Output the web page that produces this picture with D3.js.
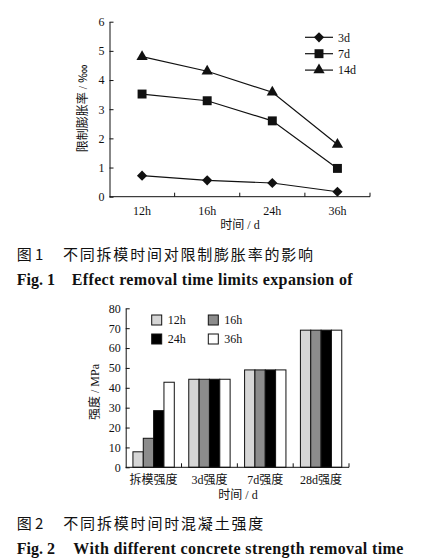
<!DOCTYPE html>
<html lang="zh">
<head>
  <meta charset="UTF-8">
  <title>拆模时间</title>
  <script src="https://d3js.org/d3.v7.min.js"></script>
  <style>
    * { margin: 0; padding: 0; box-sizing: border-box; }
    body { background: #fff; }
    svg text { font-family: "Liberation Serif", "Times New Roman", "Noto Sans CJK SC", serif; fill: #111; }
    .cjk { font-family: "Noto Sans CJK SC", sans-serif; }
  </style>
</head>
<body>
  <div id="chart"></div>
  <script>
    // fig 1: restricted expansion rate
    const times = ["12h", "16h", "24h", "36h"];
    const exp3d = [0.72, 0.56, 0.47, 0.17];
    const exp7d = [3.52, 3.29, 2.60, 0.97];
    const exp14d = [4.80, 4.30, 3.58, 1.79];
    const expAges = ["3d", "7d", "14d"];
    const expTicks = [0, 1, 2, 3, 4, 5, 6];

    // fig 2: strength
    const stages = ["拆模强度", "3d强度", "7d强度", "28d强度"];
    const str12h = [7.8, 44.3, 49.0, 69.0];
    const str16h = [14.6, 44.3, 49.0, 69.0];
    const str24h = [28.5, 44.3, 49.0, 69.0];
    const str36h = [42.8, 44.3, 49.0, 69.0];
    const strTicks = [0, 10, 20, 30, 40, 50, 60, 70, 80];

    const W = 424, H = 560;
    const svg = d3.select("#chart").append("svg")
      .attr("width", W).attr("height", H);
    svg.append("rect").attr("width", W).attr("height", H).attr("fill", "#fff");

    // ---------- Fig 1 ----------
    const g1 = svg.append("g");
    const x1 = d3.scaleBand().domain(times).range([109.5, 370]);
    const y1 = d3.scaleLinear().domain([0, 6]).range([196.7, 21.7]);

    g1.append("g")
      .attr("transform", "translate(109.5,0)")
      .call(d3.axisLeft(y1).tickValues(expTicks).tickFormat(d3.format("d"))
        .tickSizeInner(-4).tickSizeOuter(0).tickPadding(5))
      .call(a => a.attr("font-family", null))
      .call(a => a.selectAll("text").style("font-size", "12px"))
      .call(a => a.selectAll("line,path").attr("stroke", "#111"));

    g1.append("line")
      .attr("x1", x1.range()[0]).attr("x2", x1.range()[1])
      .attr("y1", y1(0)).attr("y2", y1(0))
      .attr("stroke", "#111");
    g1.selectAll(".xtick").data(times.slice(1).concat([null]))
      .enter().append("line")
      .attr("x1", d => d ? x1(d) : x1.range()[1])
      .attr("x2", d => d ? x1(d) : x1.range()[1])
      .attr("y1", y1(0)).attr("y2", y1(0) - 4)
      .attr("stroke", "#111");
    g1.selectAll(".xlab").data(times)
      .enter().append("text")
      .attr("x", d => x1(d) + x1.bandwidth() / 2)
      .attr("y", y1(0) + 14)
      .attr("dy", "0.35em")
      .attr("text-anchor", "middle")
      .style("font-size", "12px")
      .text(d => d);

    g1.append("text")
      .attr("x", 240).attr("y", 225).attr("dy", "0.35em")
      .attr("text-anchor", "middle").style("font-size", "12px")
      .text("时间 / d");
    g1.append("text")
      .attr("transform", "translate(83,108) rotate(-90)")
      .attr("dy", "0.35em")
      .attr("text-anchor", "middle").style("font-size", "12px")
      .text("限制膨胀率 / ‱");

    const series1 = [exp3d, exp7d, exp14d];
    const symbols = [
      d3.symbol().type(d3.symbolSquare).size(52),
      d3.symbol().type(d3.symbolSquare).size(80),
      d3.symbol().type(d3.symbolTriangle).size(55)
    ];
    const rot = [45, 0, 0];
    const line1 = d3.line()
      .x((d, i) => x1(times[i]) + x1.bandwidth() / 2)
      .y(d => y1(d));

    series1.forEach((vals, s) => {
      g1.append("path")
        .attr("d", line1(vals))
        .attr("fill", "none").attr("stroke", "#111").attr("stroke-width", 1.2);
      g1.selectAll(".m" + s).data(vals)
        .enter().append("path")
        .attr("transform", (d, i) => `translate(${x1(times[i]) + x1.bandwidth() / 2},${y1(d)}) rotate(${rot[s]})`)
        .attr("d", symbols[s])
        .attr("fill", "#111");
    });

    // legend 1
    const leg1 = g1.append("g");
    expAges.forEach((a, i) => {
      const ly = 37.3 + i * 16.4;
      leg1.append("line")
        .attr("x1", 305).attr("x2", 333).attr("y1", ly).attr("y2", ly)
        .attr("stroke", "#111").attr("stroke-width", 1.2);
      leg1.append("path")
        .attr("transform", `translate(319,${ly}) rotate(${rot[i]})`)
        .attr("d", symbols[i]).attr("fill", "#111");
      leg1.append("text")
        .attr("x", 338).attr("y", ly).attr("dy", "0.35em")
        .style("font-size", "12px").text(a);
    });

    // caption 1
    svg.append("text").attr("class", "cjk")
      .attr("x", 16.7).attr("y", 255).attr("dy", "0.35em")
      .style("font-size", "15px").text("图 1");
    svg.append("text").attr("class", "cjk")
      .attr("x", 63).attr("y", 255).attr("dy", "0.35em")
      .style("font-size", "15px")
      .attr("textLength", 250).attr("lengthAdjust", "spacing")
      .text("不同拆模时间对限制膨胀率的影响");
    svg.append("text")
      .attr("x", 16.7).attr("y", 285)
      .style("font-size", "16px").style("font-weight", "bold")
      .text("Fig. 1");
    svg.append("text")
      .attr("x", 71.7).attr("y", 285)
      .style("font-size", "16px").style("font-weight", "bold")
      .attr("textLength", 281).attr("lengthAdjust", "spacing")
      .text("Effect removal time limits expansion of");

    // ---------- Fig 2 ----------
    const g2 = svg.append("g");
    const x2 = d3.scaleBand().domain(stages).range([125.7, 349]);
    const y2 = d3.scaleLinear().domain([0, 80]).range([467.3, 308.3]);
    const series2 = [str12h, str16h, str24h, str36h];
    const fills = ["#d6d6d6", "#8c8c8c", "#000", "#fff"];
    const xs = d3.scaleBand().domain(times).range([0, x2.bandwidth()])
      .paddingInner(0).paddingOuter(0.7);

    g2.append("g")
      .attr("transform", "translate(125.7,0)")
      .call(d3.axisLeft(y2).tickValues(strTicks).tickSizeInner(-4).tickSizeOuter(0).tickPadding(5))
      .call(a => a.attr("font-family", null))
      .call(a => a.selectAll("text").style("font-size", "12px"))
      .call(a => a.selectAll("line,path").attr("stroke", "#111"));

    series2.forEach((vals, s) => {
      g2.selectAll(".b" + s).data(vals)
        .enter().append("rect")
        .attr("x", (d, i) => x2(stages[i]) + xs(times[s]))
        .attr("y", d => y2(d))
        .attr("width", xs.bandwidth())
        .attr("height", d => y2(0) - y2(d))
        .attr("fill", fills[s])
        .attr("stroke", "#111").attr("stroke-width", 1);
    });

    g2.append("line")
      .attr("x1", x2.range()[0]).attr("x2", x2.range()[1])
      .attr("y1", y2(0)).attr("y2", y2(0))
      .attr("stroke", "#111");
    g2.selectAll(".xtick").data(stages.slice(1).concat([null]))
      .enter().append("line")
      .attr("x1", d => d ? x2(d) : x2.range()[1])
      .attr("x2", d => d ? x2(d) : x2.range()[1])
      .attr("y1", y2(0)).attr("y2", y2(0) - 4)
      .attr("stroke", "#111");
    g2.selectAll(".xlab").data(stages)
      .enter().append("text")
      .attr("x", d => x2(d) + x2.bandwidth() / 2)
      .attr("y", 479.5).attr("dy", "0.35em")
      .attr("text-anchor", "middle")
      .style("font-size", "12px")
      .text(d => d);

    g2.append("text")
      .attr("x", 238).attr("y", 495).attr("dy", "0.35em")
      .attr("text-anchor", "middle").style("font-size", "12px")
      .text("时间 / d");
    g2.append("text")
      .attr("transform", "translate(95,392) rotate(-90)")
      .attr("dy", "0.35em")
      .attr("text-anchor", "middle").style("font-size", "12px")
      .text("强度 / MPa");

    // legend 2
    times.forEach((t, i) => {
      const lx = i % 2 === 0 ? 151.7 : 208.3;
      const ly = i < 2 ? 320 : 339;
      g2.append("rect")
        .attr("x", lx).attr("y", ly - 5).attr("width", 10).attr("height", 10)
        .attr("fill", fills[i]).attr("stroke", "#111");
      g2.append("text")
        .attr("x", lx + 16).attr("y", ly).attr("dy", "0.35em")
        .style("font-size", "12px").text(t);
    });

    // caption 2
    svg.append("text").attr("class", "cjk")
      .attr("x", 16.7).attr("y", 523.3).attr("dy", "0.35em")
      .style("font-size", "15px").text("图 2");
    svg.append("text").attr("class", "cjk")
      .attr("x", 63.3).attr("y", 523.3).attr("dy", "0.35em")
      .style("font-size", "15px")
      .attr("textLength", 200).attr("lengthAdjust", "spacing")
      .text("不同拆模时间时混凝土强度");
    svg.append("text")
      .attr("x", 16.7).attr("y", 554.3)
      .style("font-size", "16px").style("font-weight", "bold")
      .text("Fig. 2");
    svg.append("text")
      .attr("x", 73.3).attr("y", 554.3)
      .style("font-size", "16px").style("font-weight", "bold")
      .attr("textLength", 330).attr("lengthAdjust", "spacing")
      .text("With different concrete strength removal time");
  </script>
</body>
</html>
